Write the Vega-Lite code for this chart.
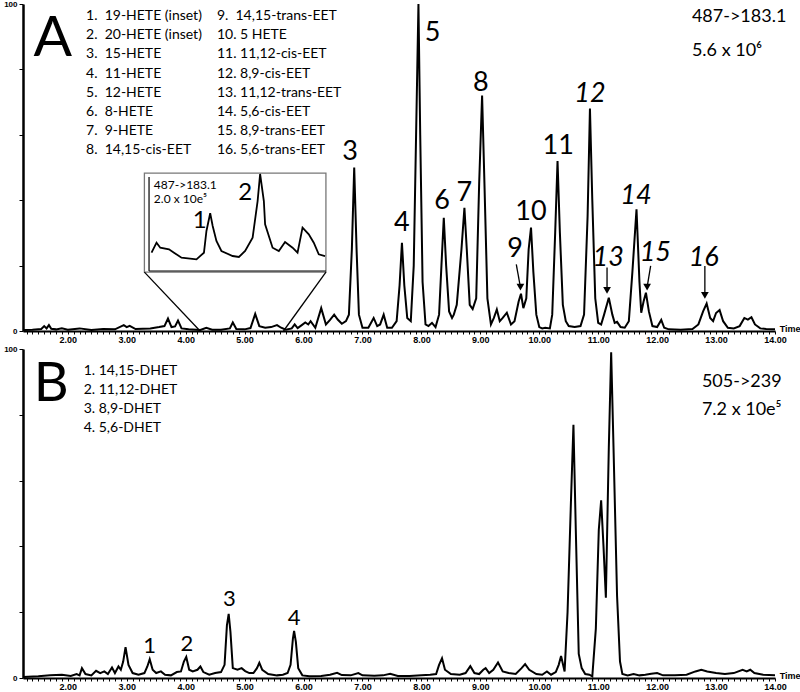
{
  "$schema": "https://vega.github.io/schema/vega-lite/v6.json",
  "background": "white",
  "padding": {"left": 3, "top": 0, "right": 0, "bottom": 0},
  "spacing": 18,
  "bounds": "flush",
  "config": {"view": {"stroke": null}, "text": {"font": "Lato", "color": "black"}},
  "vconcat": [
    {
      "width": 752,
      "height": 327,
      "resolve": {"scale": {"x": "independent", "y": "independent"}},
      "layer": [
        {
          "layer": [
            {
              "data": {"values": [
                {"t":1.24,"I":0.3},{"t":1.40,"I":0.4},{"t":1.55,"I":0.6},{"t":1.60,"I":1.5},{"t":1.64,"I":0.8},{"t":1.68,"I":1.8},{"t":1.72,"I":0.7},{"t":1.80,"I":0.5},{"t":1.90,"I":0.8},{"t":2.00,"I":0.4},{"t":2.20,"I":0.8},{"t":2.40,"I":0.3},{"t":2.60,"I":0.6},{"t":2.80,"I":0.5},{"t":2.95,"I":1.8},{"t":3.00,"I":1.2},{"t":3.05,"I":1.6},{"t":3.15,"I":0.6},{"t":3.40,"I":0.8},{"t":3.55,"I":1.2},{"t":3.64,"I":1.5},{"t":3.70,"I":3.8},{"t":3.76,"I":1.2},{"t":3.82,"I":1.4},{"t":3.87,"I":3.2},{"t":3.93,"I":0.8},{"t":4.05,"I":0.5},{"t":4.25,"I":0.3},{"t":4.35,"I":1.0},{"t":4.45,"I":0.4},{"t":4.60,"I":0.4},{"t":4.75,"I":0.8},{"t":4.80,"I":2.6},{"t":4.86,"I":0.6},{"t":5.00,"I":0.5},{"t":5.10,"I":0.9},{"t":5.18,"I":5.2},{"t":5.25,"I":1.5},{"t":5.35,"I":1.0},{"t":5.45,"I":1.2},{"t":5.55,"I":1.8},{"t":5.62,"I":1.0},{"t":5.70,"I":0.4},{"t":5.80,"I":0.8},{"t":5.85,"I":2.0},{"t":5.90,"I":0.9},{"t":5.97,"I":1.8},{"t":6.03,"I":2.6},{"t":6.08,"I":2.0},{"t":6.12,"I":3.0},{"t":6.20,"I":1.0},{"t":6.30,"I":7.0},{"t":6.38,"I":2.0},{"t":6.45,"I":3.4},{"t":6.52,"I":5.0},{"t":6.58,"I":3.5},{"t":6.65,"I":2.2},{"t":6.72,"I":3.0},{"t":6.77,"I":5.0},{"t":6.82,"I":25},{"t":6.86,"I":50},{"t":6.90,"I":25},{"t":6.94,"I":5},{"t":7.00,"I":1.0},{"t":7.10,"I":1.0},{"t":7.19,"I":4.0},{"t":7.25,"I":1.5},{"t":7.30,"I":2.0},{"t":7.36,"I":5.0},{"t":7.42,"I":1.0},{"t":7.50,"I":1.0},{"t":7.58,"I":3.0},{"t":7.63,"I":14},{"t":7.67,"I":27},{"t":7.71,"I":14},{"t":7.76,"I":4},{"t":7.82,"I":3},{"t":7.87,"I":20},{"t":7.91,"I":60},{"t":7.95,"I":100},{"t":7.98,"I":60},{"t":8.02,"I":15},{"t":8.07,"I":2},{"t":8.12,"I":1.5},{"t":8.18,"I":2.5},{"t":8.24,"I":1.2},{"t":8.30,"I":5},{"t":8.34,"I":20},{"t":8.38,"I":34.6},{"t":8.42,"I":20},{"t":8.47,"I":6},{"t":8.52,"I":4},{"t":8.55,"I":5},{"t":8.60,"I":8},{"t":8.68,"I":25},{"t":8.73,"I":37.7},{"t":8.77,"I":25},{"t":8.82,"I":8},{"t":8.87,"I":6.7},{"t":8.93,"I":10},{"t":8.98,"I":45},{"t":9.03,"I":72},{"t":9.07,"I":45},{"t":9.12,"I":10},{"t":9.18,"I":2},{"t":9.23,"I":4},{"t":9.28,"I":6.6},{"t":9.33,"I":3},{"t":9.38,"I":4},{"t":9.45,"I":5.6},{"t":9.52,"I":2},{"t":9.58,"I":3},{"t":9.65,"I":9},{"t":9.69,"I":11.4},{"t":9.73,"I":7},{"t":9.78,"I":10},{"t":9.82,"I":25},{"t":9.86,"I":31.6},{"t":9.90,"I":18},{"t":9.95,"I":5},{"t":10.00,"I":1.2},{"t":10.05,"I":0.8},{"t":10.10,"I":1.0},{"t":10.18,"I":0.8},{"t":10.22,"I":5},{"t":10.27,"I":30},{"t":10.31,"I":52},{"t":10.35,"I":30},{"t":10.40,"I":8},{"t":10.45,"I":3},{"t":10.50,"I":1.5},{"t":10.60,"I":1.2},{"t":10.70,"I":1.5},{"t":10.76,"I":5},{"t":10.82,"I":35},{"t":10.86,"I":68},{"t":10.90,"I":40},{"t":10.95,"I":10},{"t":11.00,"I":2.5},{"t":11.05,"I":2},{"t":11.10,"I":5},{"t":11.18,"I":10.2},{"t":11.24,"I":5},{"t":11.28,"I":2.5},{"t":11.32,"I":2.8},{"t":11.38,"I":1.2},{"t":11.45,"I":1},{"t":11.52,"I":3},{"t":11.58,"I":18},{"t":11.65,"I":37.2},{"t":11.70,"I":15},{"t":11.73,"I":5.6},{"t":11.77,"I":9},{"t":11.81,"I":11.7},{"t":11.86,"I":6},{"t":11.92,"I":1.5},{"t":12.00,"I":1.2},{"t":12.07,"I":3.4},{"t":12.12,"I":1},{"t":12.20,"I":0.5},{"t":12.40,"I":0.4},{"t":12.60,"I":0.6},{"t":12.70,"I":2},{"t":12.78,"I":6},{"t":12.84,"I":8.4},{"t":12.90,"I":4},{"t":12.95,"I":3},{"t":13.00,"I":5.5},{"t":13.06,"I":6.4},{"t":13.12,"I":3},{"t":13.20,"I":1},{"t":13.30,"I":0.8},{"t":13.40,"I":1.5},{"t":13.48,"I":4},{"t":13.54,"I":3.5},{"t":13.60,"I":4.2},{"t":13.66,"I":2},{"t":13.75,"I":0.8},{"t":13.85,"I":0.6},{"t":14.00,"I":0.5}
              ]},
              "mark": {"type": "line", "color": "black", "strokeWidth": 2},
              "encoding": {
                "x": {"field": "t", "type": "quantitative", "scale": {"domain": [1.24, 14], "nice": false, "zero": false},
                  "axis": {"title": null, "grid": false, "tickCount": 128, "labelOverlap": false, "labelFlush": false,
                    "labelExpr": "abs(datum.value - round(datum.value)) < 0.001 ? format(datum.value, '.2f') : ''",
                    "labelFont": "Liberation Sans", "labelFontWeight": "bold", "labelFontSize": 9, "labelColor": "black",
                    "labelPadding": 1, "domainColor": "black", "domainWidth": 2, "tickColor": "black", "tickSize": 3, "tickWidth": 1}},
                "y": {"field": "I", "type": "quantitative", "scale": {"domain": [0, 100], "nice": false},
                  "axis": {"title": null, "grid": false, "values": [0,10,20,30,40,50,60,70,80,90,100],
                    "labelExpr": "datum.value == 100 ? '100' : datum.value == 0 ? '0' : datum.value == 50 ? '%' : ''",
                    "labelFont": "Liberation Sans", "labelFontWeight": "bold", "labelFontSize": 8, "labelColor": "black",
                    "labelPadding": 2, "domainColor": "black", "domainWidth": 2.5, "tickColor": "black", "tickSize": 4, "tickWidth": 1}}
              }
            },
            {
              "data": {"values": [{"t": 3.30, "t2": 6.38, "I": 18.0, "I2": 48.3}]},
              "mark": {"type": "rect", "fill": "white", "stroke": "#777777", "strokeWidth": 1.3},
              "encoding": {"x": {"field": "t", "type": "quantitative"}, "x2": {"field": "t2"}, "y": {"field": "I", "type": "quantitative"}, "y2": {"field": "I2"}}
            },
            {
              "data": {"values": [{"t": 4.245, "I": 0, "t2": 3.30, "I2": 18.0}, {"t": 5.66, "I": 0, "t2": 6.38, "I2": 18.0}]},
              "mark": {"type": "rule", "color": "black", "strokeWidth": 1.3},
              "encoding": {"x": {"field": "t", "type": "quantitative"}, "x2": {"field": "t2"}, "y": {"field": "I", "type": "quantitative"}, "y2": {"field": "I2"}}
            },
            {
              "data": {"values": [
                {"t": 6.79, "I": 54.8, "txt": "3"}, {"t": 7.67, "I": 33.1, "txt": "4"}, {"t": 8.19, "I": 91.2, "txt": "5"},
                {"t": 8.35, "I": 39.8, "txt": "6"}, {"t": 8.73, "I": 42.3, "txt": "7"}, {"t": 9.01, "I": 75.9, "txt": "8"},
                {"t": 9.59, "I": 25.0, "txt": "9"}, {"t": 9.86, "I": 36.4, "txt": "10"}, {"t": 10.32, "I": 56.6, "txt": "11"}
              ]},
              "mark": {"type": "text", "fontSize": 27, "baseline": "middle", "align": "center"},
              "encoding": {"x": {"field": "t", "type": "quantitative"}, "y": {"field": "I", "type": "quantitative"}, "text": {"field": "txt"}}
            },
            {
              "data": {"values": [
                {"t": 10.86, "I": 72.4, "txt": "12"}, {"t": 11.17, "I": 22.4, "txt": "13"}, {"t": 11.64, "I": 41.3, "txt": "14"},
                {"t": 11.97, "I": 23.9, "txt": "15"}, {"t": 12.79, "I": 22.2, "txt": "16"}
              ]},
              "mark": {"type": "text", "fontSize": 27, "fontStyle": "italic", "baseline": "middle", "align": "center"},
              "encoding": {"x": {"field": "t", "type": "quantitative"}, "y": {"field": "I", "type": "quantitative"}, "text": {"field": "txt"}}
            },
            {
              "data": {"values": [
                {"t": 9.61, "I": 20.4, "t2": 9.68, "I2": 13.4},
                {"t": 11.15, "I": 19.4, "t2": 11.15, "I2": 12.4},
                {"t": 11.89, "I": 19.9, "t2": 11.83, "I2": 13.4},
                {"t": 12.81, "I": 19.9, "t2": 12.81, "I2": 10.9}
              ]},
              "mark": {"type": "rule", "color": "black", "strokeWidth": 1.3},
              "encoding": {"x": {"field": "t", "type": "quantitative"}, "x2": {"field": "t2"}, "y": {"field": "I", "type": "quantitative"}, "y2": {"field": "I2"}}
            },
            {
              "data": {"values": [
                {"t2": 9.68, "I2": 13.4}, {"t2": 11.15, "I2": 12.4}, {"t2": 11.83, "I2": 13.4}, {"t2": 12.81, "I2": 10.9}
              ]},
              "mark": {"type": "point", "shape": "triangle-down", "filled": true, "color": "black", "size": 60, "opacity": 1},
              "encoding": {"x": {"field": "t2", "type": "quantitative"}, "y": {"field": "I2", "type": "quantitative"}}
            },
            {
              "data": {"values": [{"t": 1.745, "I": 89.2, "txt": "A"}]},
              "mark": {"type": "text", "fontSize": 57, "baseline": "middle", "align": "center"},
              "encoding": {"x": {"field": "t", "type": "quantitative"}, "y": {"field": "I", "type": "quantitative"}, "text": {"field": "txt"}}
            },
            {
              "data": {"values": [
                {"t": 2.31, "I": 96.3, "txt": "1.\u00a0\u00a019-HETE (inset)"},
                {"t": 2.31, "I": 90.4, "txt": "2.\u00a0\u00a020-HETE (inset)"},
                {"t": 2.31, "I": 84.6, "txt": "3.\u00a0\u00a015-HETE"},
                {"t": 2.31, "I": 78.7, "txt": "4.\u00a0\u00a011-HETE"},
                {"t": 2.31, "I": 72.9, "txt": "5.\u00a0\u00a012-HETE"},
                {"t": 2.31, "I": 67.0, "txt": "6.\u00a0\u00a08-HETE"},
                {"t": 2.31, "I": 61.2, "txt": "7.\u00a0\u00a09-HETE"},
                {"t": 2.31, "I": 55.3, "txt": "8.\u00a0\u00a014,15-cis-EET"},
                {"t": 4.53, "I": 96.3, "txt": "9.\u00a0\u00a014,15-trans-EET"},
                {"t": 4.53, "I": 90.4, "txt": "10. 5 HETE"},
                {"t": 4.53, "I": 84.6, "txt": "11. 11,12-cis-EET"},
                {"t": 4.53, "I": 78.7, "txt": "12. 8,9-cis-EET"},
                {"t": 4.53, "I": 72.9, "txt": "13. 11,12-trans-EET"},
                {"t": 4.53, "I": 67.0, "txt": "14. 5,6-cis-EET"},
                {"t": 4.53, "I": 61.2, "txt": "15. 8,9-trans-EET"},
                {"t": 4.53, "I": 55.3, "txt": "16. 5,6-trans-EET"}
              ]},
              "mark": {"type": "text", "fontSize": 14, "baseline": "middle", "align": "left"},
              "encoding": {"x": {"field": "t", "type": "quantitative"}, "y": {"field": "I", "type": "quantitative"}, "text": {"field": "txt"}}
            },
            {
              "data": {"values": [{"t": 12.59, "I": 95.9, "txt": "487->183.1"}, {"t": 12.59, "I": 85.6, "txt": "5.6 x 10\u2076"}]},
              "mark": {"type": "text", "fontSize": 18, "baseline": "middle", "align": "left"},
              "encoding": {"x": {"field": "t", "type": "quantitative"}, "y": {"field": "I", "type": "quantitative"}, "text": {"field": "txt"}}
            },
            {
              "data": {"values": [{"t": 3.46, "I": 44.6, "txt": "487->183.1"}, {"t": 3.46, "I": 40.3, "txt": "2.0 x 10e\u2075"}]},
              "mark": {"type": "text", "fontSize": 12, "baseline": "middle", "align": "left"},
              "encoding": {"x": {"field": "t", "type": "quantitative"}, "y": {"field": "I", "type": "quantitative"}, "text": {"field": "txt"}}
            },
            {
              "data": {"values": [{"t": 4.24, "I": 33.6, "txt": "1"}, {"t": 5.01, "I": 42.3, "txt": "2"}]},
              "mark": {"type": "text", "fontSize": 24, "baseline": "middle", "align": "center"},
              "encoding": {"x": {"field": "t", "type": "quantitative"}, "y": {"field": "I", "type": "quantitative"}, "text": {"field": "txt"}}
            },
            {
              "data": {"values": [{"t": 14.08, "I": 0.5, "txt": "Time"}]},
              "mark": {"type": "text", "font": "Liberation Sans", "fontWeight": "bold", "fontSize": 9, "baseline": "middle", "align": "left"},
              "encoding": {"x": {"field": "t", "type": "quantitative"}, "y": {"field": "I", "type": "quantitative"}, "text": {"field": "txt"}}
            }
          ]
        },
        {
          "layer": [
            {
              "data": {"values": [
                {"ti":4.27,"ii":18.7},{"ti":4.31,"ii":28.9},{"ti":4.34,"ii":23.8},{"ti":4.41,"ii":22.1},{"ti":4.45,"ii":18.7},{"ti":4.51,"ii":13.6},{"ti":4.63,"ii":11.9},{"ti":4.69,"ii":18.7},{"ti":4.71,"ii":40.8},{"ti":4.74,"ii":58.9},{"ti":4.76,"ii":45.9},{"ti":4.79,"ii":30.6},{"ti":4.83,"ii":20.4},{"ti":4.92,"ii":15.3},{"ti":4.97,"ii":14.3},{"ti":5.02,"ii":20.4},{"ti":5.08,"ii":34.0},{"ti":5.12,"ii":71.4},{"ti":5.14,"ii":99.0},{"ti":5.17,"ii":71.4},{"ti":5.18,"ii":47.7},{"ti":5.24,"ii":23.8},{"ti":5.29,"ii":20.4},{"ti":5.34,"ii":29.6},{"ti":5.40,"ii":23.8},{"ti":5.44,"ii":18.7},{"ti":5.48,"ii":44.2},{"ti":5.53,"ii":37.4},{"ti":5.57,"ii":28.9},{"ti":5.61,"ii":17.0},{"ti":5.66,"ii":15.3}
              ]},
              "mark": {"type": "line", "color": "black", "strokeWidth": 1.8},
              "encoding": {
                "x": {"field": "ti", "type": "quantitative", "scale": {"domain": [3.24, 9.266], "nice": false, "zero": false}, "axis": null},
                "y": {"field": "ii", "type": "quantitative", "scale": {"domain": [-61.2, 272.4], "nice": false, "zero": false}, "axis": null}
              }
            },
            {
              "data": {"values": [{"ti": 4.25, "ii": 0, "ti2": 5.668, "ii2": 0}, {"ti": 4.25, "ii": 0, "ti2": 4.25, "ii2": 96}]},
              "mark": {"type": "rule", "color": "black", "strokeWidth": 1.2},
              "encoding": {"x": {"field": "ti", "type": "quantitative"}, "x2": {"field": "ti2"}, "y": {"field": "ii", "type": "quantitative"}, "y2": {"field": "ii2"}}
            }
          ]
        }
      ]
    },
    {
      "width": 752,
      "height": 329,
      "layer": [
        {
          "data": {"values": [
            {"t":1.24,"I":0.3},{"t":1.50,"I":0.5},{"t":1.70,"I":0.8},{"t":1.90,"I":1.0},{"t":2.05,"I":0.6},{"t":2.15,"I":1.2},{"t":2.20,"I":0.8},{"t":2.24,"I":3.0},{"t":2.30,"I":1.2},{"t":2.40,"I":0.8},{"t":2.48,"I":2.2},{"t":2.55,"I":1.5},{"t":2.62,"I":2.0},{"t":2.68,"I":1.2},{"t":2.75,"I":3.2},{"t":2.80,"I":1.5},{"t":2.86,"I":3.5},{"t":2.90,"I":2.5},{"t":2.94,"I":5},{"t":2.98,"I":9.4},{"t":3.03,"I":4},{"t":3.10,"I":1.5},{"t":3.20,"I":1.0},{"t":3.30,"I":1.5},{"t":3.35,"I":3.5},{"t":3.39,"I":5.7},{"t":3.44,"I":2.5},{"t":3.50,"I":1.5},{"t":3.58,"I":2.0},{"t":3.65,"I":1.0},{"t":3.75,"I":0.8},{"t":3.85,"I":1.8},{"t":3.92,"I":2.0},{"t":3.97,"I":5},{"t":4.01,"I":6.4},{"t":4.06,"I":2.5},{"t":4.12,"I":2.0},{"t":4.20,"I":2.5},{"t":4.25,"I":3.5},{"t":4.30,"I":1.8},{"t":4.40,"I":1.0},{"t":4.50,"I":1.5},{"t":4.60,"I":1.8},{"t":4.66,"I":4},{"t":4.70,"I":16},{"t":4.73,"I":19.5},{"t":4.76,"I":14},{"t":4.80,"I":3},{"t":4.88,"I":2.5},{"t":4.95,"I":3.0},{"t":5.01,"I":2.1},{"t":5.08,"I":1.5},{"t":5.15,"I":1.5},{"t":5.21,"I":3},{"t":5.25,"I":4.6},{"t":5.30,"I":2.5},{"t":5.40,"I":1.2},{"t":5.55,"I":0.8},{"t":5.65,"I":1.0},{"t":5.73,"I":1.5},{"t":5.78,"I":4},{"t":5.82,"I":12},{"t":5.84,"I":14.3},{"t":5.87,"I":11},{"t":5.91,"I":3},{"t":5.98,"I":0.8},{"t":6.10,"I":0.5},{"t":6.30,"I":0.6},{"t":6.45,"I":1.0},{"t":6.57,"I":1.6},{"t":6.65,"I":0.9},{"t":6.80,"I":0.8},{"t":6.93,"I":1.5},{"t":7.00,"I":0.8},{"t":7.20,"I":0.7},{"t":7.35,"I":0.8},{"t":7.47,"I":1.3},{"t":7.60,"I":0.6},{"t":7.80,"I":0.6},{"t":8.00,"I":0.8},{"t":8.15,"I":1.0},{"t":8.25,"I":1.2},{"t":8.30,"I":4},{"t":8.35,"I":6.0},{"t":8.40,"I":2.5},{"t":8.50,"I":1.2},{"t":8.65,"I":1.0},{"t":8.75,"I":1.5},{"t":8.83,"I":3.6},{"t":8.90,"I":1.5},{"t":8.98,"I":1.2},{"t":9.05,"I":2.5},{"t":9.09,"I":3.0},{"t":9.15,"I":1.5},{"t":9.22,"I":2.5},{"t":9.30,"I":4.7},{"t":9.38,"I":2.0},{"t":9.48,"I":1.5},{"t":9.60,"I":1.2},{"t":9.70,"I":3.0},{"t":9.76,"I":4.2},{"t":9.83,"I":2.5},{"t":9.95,"I":1.2},{"t":10.05,"I":1.0},{"t":10.13,"I":2.0},{"t":10.20,"I":1.0},{"t":10.28,"I":1.8},{"t":10.33,"I":4.0},{"t":10.37,"I":6.7},{"t":10.43,"I":2},{"t":10.48,"I":20},{"t":10.54,"I":55},{"t":10.58,"I":77},{"t":10.62,"I":45},{"t":10.67,"I":7.3},{"t":10.72,"I":3},{"t":10.78,"I":1.2},{"t":10.85,"I":1.0},{"t":10.90,"I":0.5},{"t":10.96,"I":15},{"t":11.01,"I":45},{"t":11.05,"I":54},{"t":11.09,"I":40},{"t":11.13,"I":24.4},{"t":11.18,"I":70},{"t":11.22,"I":99},{"t":11.26,"I":70},{"t":11.32,"I":25},{"t":11.37,"I":5},{"t":11.41,"I":1.2},{"t":11.50,"I":0.8},{"t":11.60,"I":1.2},{"t":11.70,"I":0.8},{"t":11.80,"I":1.0},{"t":11.90,"I":1.3},{"t":12.00,"I":1.5},{"t":12.10,"I":0.8},{"t":12.30,"I":0.8},{"t":12.50,"I":1.0},{"t":12.65,"I":2.0},{"t":12.75,"I":2.5},{"t":12.85,"I":2.0},{"t":13.00,"I":1.5},{"t":13.15,"I":1.2},{"t":13.30,"I":1.5},{"t":13.45,"I":2.5},{"t":13.52,"I":2.0},{"t":13.58,"I":2.5},{"t":13.65,"I":1.5},{"t":13.80,"I":1.0},{"t":14.00,"I":0.8}
          ]},
          "mark": {"type": "line", "color": "black", "strokeWidth": 2},
          "encoding": {
            "x": {"field": "t", "type": "quantitative", "scale": {"domain": [1.24, 14], "nice": false, "zero": false},
              "axis": {"title": null, "grid": false, "tickCount": 128, "labelOverlap": false, "labelFlush": false,
                "labelExpr": "abs(datum.value - round(datum.value)) < 0.001 ? format(datum.value, '.2f') : ''",
                "labelFont": "Liberation Sans", "labelFontWeight": "bold", "labelFontSize": 9, "labelColor": "black",
                "labelPadding": 1, "domainColor": "black", "domainWidth": 2, "tickColor": "black", "tickSize": 3, "tickWidth": 1}},
            "y": {"field": "I", "type": "quantitative", "scale": {"domain": [0, 100], "nice": false},
              "axis": {"title": null, "grid": false, "values": [0,10,20,30,40,50,60,70,80,90,100],
                "labelExpr": "datum.value == 100 ? '100' : datum.value == 0 ? '0' : datum.value == 50 ? '%' : ''",
                "labelFont": "Liberation Sans", "labelFontWeight": "bold", "labelFontSize": 8, "labelColor": "black",
                "labelPadding": 2, "domainColor": "black", "domainWidth": 2.5, "tickColor": "black", "tickSize": 4, "tickWidth": 1}}
          }
        },
        {
          "data": {"values": [{"t": 3.39, "I": 9.7, "txt": "1"}, {"t": 4.02, "I": 10.4, "txt": "2"}, {"t": 4.74, "I": 23.9, "txt": "3"}, {"t": 5.84, "I": 18.3, "txt": "4"}]},
          "mark": {"type": "text", "fontSize": 22, "baseline": "middle", "align": "center"},
          "encoding": {"x": {"field": "t", "type": "quantitative"}, "y": {"field": "I", "type": "quantitative"}, "text": {"field": "txt"}}
        },
        {
          "data": {"values": [{"t": 1.72, "I": 89.1, "txt": "B"}]},
          "mark": {"type": "text", "fontSize": 54, "baseline": "middle", "align": "center"},
          "encoding": {"x": {"field": "t", "type": "quantitative"}, "y": {"field": "I", "type": "quantitative"}, "text": {"field": "txt"}}
        },
        {
          "data": {"values": [
            {"t": 2.27, "I": 93.3, "txt": "1. 14,15-DHET"},
            {"t": 2.27, "I": 87.5, "txt": "2. 11,12-DHET"},
            {"t": 2.27, "I": 81.8, "txt": "3. 8,9-DHET"},
            {"t": 2.27, "I": 76.0, "txt": "4. 5,6-DHET"}
          ]},
          "mark": {"type": "text", "fontSize": 14, "baseline": "middle", "align": "left"},
          "encoding": {"x": {"field": "t", "type": "quantitative"}, "y": {"field": "I", "type": "quantitative"}, "text": {"field": "txt"}}
        },
        {
          "data": {"values": [{"t": 12.76, "I": 90.0, "txt": "505->239"}, {"t": 12.76, "I": 81.5, "txt": "7.2 x 10e\u2075"}]},
          "mark": {"type": "text", "fontSize": 18, "baseline": "middle", "align": "left"},
          "encoding": {"x": {"field": "t", "type": "quantitative"}, "y": {"field": "I", "type": "quantitative"}, "text": {"field": "txt"}}
        },
        {
          "data": {"values": [{"t": 14.08, "I": 0.5, "txt": "Time"}]},
          "mark": {"type": "text", "font": "Liberation Sans", "fontWeight": "bold", "fontSize": 9, "baseline": "middle", "align": "left"},
          "encoding": {"x": {"field": "t", "type": "quantitative"}, "y": {"field": "I", "type": "quantitative"}, "text": {"field": "txt"}}
        }
      ]
    }
  ]
}
